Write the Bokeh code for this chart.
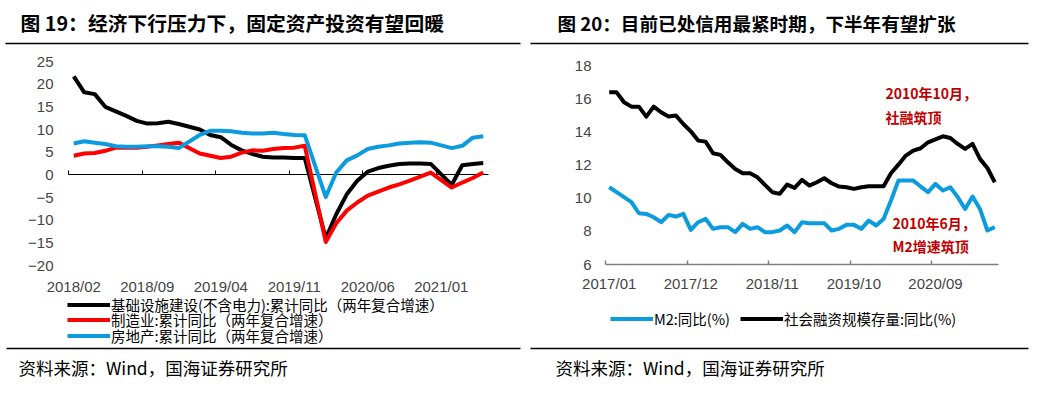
from bokeh.plotting import figure
from bokeh.models import (FixedTicker, Label, Legend, LegendItem, BoxAnnotation,
                          LinearAxis, Range1d)
from bokeh.layouts import row
from bokeh.embed import file_html
from bokeh.resources import INLINE

CJK = "Noto Sans CJK SC"
LAT = "Liberation Sans"

# ---------------- Left chart data ----------------
left_axis_months = [
    "2018/02", "2018/03", "2018/04", "2018/05", "2018/06", "2018/07", "2018/08", "2018/09",
    "2018/10", "2018/11", "2018/12", "2019/01", "2019/02", "2019/03", "2019/04", "2019/05",
    "2019/06", "2019/07", "2019/08", "2019/09", "2019/10", "2019/11", "2019/12", "2020/01",
    "2020/02", "2020/03", "2020/04", "2020/05", "2020/06", "2020/07", "2020/08", "2020/09",
    "2020/10", "2020/11", "2020/12", "2021/01", "2021/02", "2021/03", "2021/04", "2021/05",
]
left_tick_labels = ["2018/02", "2018/09", "2019/04", "2019/11", "2020/06", "2021/01"]
left_y_ticks = [-20, -15, -10, -5, 0, 5, 10, 15, 20, 25]
left_data_months = [
    "2018/02", "2018/03", "2018/04", "2018/05", "2018/06", "2018/07", "2018/08", "2018/09",
    "2018/10", "2018/11", "2018/12", "2019/02", "2019/03", "2019/04", "2019/05",
    "2019/06", "2019/07", "2019/08", "2019/09", "2019/10", "2019/11", "2019/12",
    "2020/02", "2020/03", "2020/04", "2020/05", "2020/06", "2020/07", "2020/08", "2020/09",
    "2020/10", "2020/11", "2020/12", "2021/02", "2021/03", "2021/04", "2021/05",
]
infra = [21.7, 18.2, 17.8, 15.0, 14.0, 13.0, 11.9, 11.3, 11.4, 11.7, 11.2,
         10.0, 8.8, 8.3, 6.6, 5.4, 4.6, 4.0, 3.8, 3.8, 3.7, 3.7,
         -14.0, -8.7, -4.3, -1.3, 0.7, 1.5, 2.0, 2.4, 2.5, 2.5, 2.4,
         -2.2, 2.1, 2.4, 2.6]
manuf = [4.2, 4.7, 4.8, 5.3, 6.0, 6.0, 6.0, 6.2, 6.5, 6.8, 7.1,
         4.7, 4.2, 3.7, 4.0, 4.9, 5.4, 5.3, 5.7, 5.9, 6.0, 6.4,
         -14.8, -10.7, -7.9, -6.1, -4.6, -3.7, -2.8, -2.1, -1.3, -0.4, 0.5,
         -2.8, -1.7, -0.7, 0.5]
realty = [6.9, 7.4, 7.1, 6.8, 6.3, 6.2, 6.2, 6.3, 6.3, 6.2, 5.9,
          8.8, 9.7, 9.7, 9.6, 9.3, 9.1, 9.1, 9.3, 9.0, 8.8, 8.75,
          -4.9, 0.5, 3.2, 4.3, 5.7, 6.2, 6.5, 6.9, 7.1, 7.2, 7.1,
          5.9, 6.4, 8.2, 8.5]
left_names = ["基础设施建设(不含电力):累计同比（两年复合增速）",
              "制造业:累计同比（两年复合增速）",
              "房地产:累计同比（两年复合增速）"]

# ---------------- Right chart data ----------------
right_months = [
    "2017/01", "2017/02", "2017/03", "2017/04", "2017/05", "2017/06", "2017/07", "2017/08",
    "2017/09", "2017/10", "2017/11", "2017/12", "2018/01", "2018/02", "2018/03", "2018/04",
    "2018/05", "2018/06", "2018/07", "2018/08", "2018/09", "2018/10", "2018/11", "2018/12",
    "2019/01", "2019/02", "2019/03", "2019/04", "2019/05", "2019/06", "2019/07", "2019/08",
    "2019/09", "2019/10", "2019/11", "2019/12", "2020/01", "2020/02", "2020/03", "2020/04",
    "2020/05", "2020/06", "2020/07", "2020/08", "2020/09", "2020/10", "2020/11", "2020/12",
    "2021/01", "2021/02", "2021/03", "2021/04", "2021/05",
]
right_tick_labels = ["2017/01", "2017/12", "2018/11", "2019/10", "2020/09"]
right_y_ticks = [6, 8, 10, 12, 14, 16, 18]
m2 = [10.66, 10.36, 10.06, 9.76, 9.09, 9.05, 8.85, 8.55, 8.99, 8.89, 9.05, 8.09,
      8.55, 8.75, 8.15, 8.25, 8.25, 7.95, 8.45, 8.15, 8.25, 7.95, 7.95, 8.05,
      8.35, 7.95, 8.55, 8.49, 8.49, 8.49, 8.05, 8.15, 8.39, 8.39, 8.15, 8.65,
      8.35, 8.75, 9.86, 11.06, 11.06, 11.06, 10.70, 10.36, 10.86, 10.46, 10.66, 10.06,
      9.35, 10.10, 9.35, 8.05, 8.25]
tsf = [16.38, 16.38, 15.78, 15.52, 15.52, 14.92, 15.52, 15.18, 14.92, 14.98, 14.47, 14.03,
       13.47, 13.41, 12.71, 12.61, 12.16, 11.76, 11.50, 11.50, 11.26, 10.80, 10.36, 10.26,
       10.82, 10.62, 11.10, 10.76, 10.96, 11.20, 10.90, 10.70, 10.66, 10.56, 10.66, 10.72,
       10.72, 10.72, 11.50, 12.02, 12.57, 12.87, 13.01, 13.37, 13.55, 13.73, 13.63, 13.27,
       12.97, 13.27, 12.37, 11.82, 10.96]
right_names = ["M2:同比(%)", "社会融资规模存量:同比(%)"]
notes = ["2010年10月，", "社融筑顶", "2010年6月，", "M2增速筑顶"]
titles = ["图 19：经济下行压力下，固定资产投资有望回暖",
          "图 20：目前已处信用最紧时期，下半年有望扩张"]
source = "资料来源：Wind，国海证券研究所"

BLACK = "#000000"
RED = "#FF0000"
BLUE = "#0C9BDF"
DARKRED = "#C00000"
H = 397  # page height


def make_fig(x0, w, data_x, px_x, data_y, px_y):
    """Figure whose frame is the whole canvas; ranges chosen so data_x/data_y
    map onto page pixel spans px_x / px_y."""
    (dx0, dx1), (pxa, pxb) = data_x, px_x
    (dy0, dy1), (pya, pyb) = data_y, px_y  # pya = page y of dy1 (top), pyb = of dy0
    kx = (pxb - pxa) / (dx1 - dx0)
    ky = (pyb - pya) / (dy1 - dy0)
    xr = Range1d(dx0 - (pxa - x0) / kx, dx1 + (x0 + w - pxb) / kx)
    yr = Range1d(dy0 - (H - pyb) / ky, dy1 + pya / ky)
    p = figure(width=w, height=H, output_backend="svg", toolbar_location=None,
               x_range=xr, y_range=yr, x_axis_type=None, y_axis_type=None,
               min_border=0, title=None)
    p.outline_line_color = None
    p.background_fill_color = "white"
    p.border_fill_color = "white"
    return p


def lab(x0, X, Y, text, size="14px", font=CJK, style="normal", color="black"):
    return Label(x=X - x0, y=H - Y, x_units="screen", y_units="screen", text=text,
                 text_font=font, text_font_size=size, text_font_style=style,
                 text_color=color, text_baseline="middle", text_align="left")


def rule(x0, X1, X2, Y, t=1.5):
    return BoxAnnotation(left=X1 - x0, right=X2 - x0, bottom=H - Y - t / 2, top=H - Y + t / 2,
                         left_units="screen", right_units="screen", top_units="screen",
                         bottom_units="screen", fill_color="black", fill_alpha=1.0,
                         line_color=None, level="overlay")


def one_legend(x0, renderer, name, X, Y, h=21, size="14.5px"):
    return Legend(items=[LegendItem(label=name, renderers=[renderer])],
                  location=(X - x0, H - Y - h / 2), orientation="horizontal",
                  glyph_width=43, glyph_height=h, label_height=h, label_standoff=1,
                  padding=0, margin=0, spacing=0, border_line_color=None,
                  background_fill_alpha=0, label_text_font=CJK, label_text_font_size=size,
                  label_text_color="black", label_text_line_height=1.0)


def y_axis(loc, bounds, ticks, standoff):
    return LinearAxis(fixed_location=loc, bounds=bounds, ticker=FixedTicker(ticks=ticks),
                      axis_line_color=None, major_tick_line_color=None,
                      minor_tick_line_color=None, major_tick_in=0, major_tick_out=0,
                      minor_tick_in=0, minor_tick_out=0,
                      major_label_text_font=LAT, major_label_text_font_size="15px",
                      major_label_standoff=standoff)


# ================= Left figure =================
LX0, LW = 0, 528
nl = len(left_axis_months)
pl = make_fig(LX0, LW, (-0.5, nl - 0.5), (68, 488), (-20, 25), (61, 265))

xl = [left_axis_months.index(m) for m in left_data_months]
rl = []
for ys, c in [(infra, BLACK), (manuf, RED), (realty, BLUE)]:
    rl.append(pl.line(xl, ys, line_color=c, line_width=4, line_join="round"))

pl.add_layout(y_axis(-0.5, (-20, 25), left_y_ticks, 15), "left")

l_tick_pos = [left_axis_months.index(m) for m in left_tick_labels]
zero_axis = LinearAxis(fixed_location=0, bounds=(-0.5, nl - 0.5),
                       ticker=FixedTicker(ticks=[], minor_ticks=[p - 0.5 for p in l_tick_pos]),
                       axis_line_color="black", axis_line_width=1,
                       major_tick_line_color=None, minor_tick_line_color="black",
                       minor_tick_in=4, minor_tick_out=0, major_label_text_font_size="0px")
zero_axis.level = "underlay"
pl.add_layout(zero_axis, "below")
lab_axis = LinearAxis(fixed_location=-20, bounds=(-0.5, nl - 0.5),
                      ticker=FixedTicker(ticks=l_tick_pos, minor_ticks=[]),
                      major_label_overrides={p: t for p, t in zip(l_tick_pos, left_tick_labels)},
                      axis_line_color=None, major_tick_line_color=None,
                      minor_tick_line_color=None, major_tick_in=0, major_tick_out=0,
                      major_label_text_font=LAT, major_label_text_font_size="15px",
                      major_label_standoff=12)
pl.add_layout(lab_axis, "below")

for r, nm, Y in zip(rl, left_names, [304, 319.5, 335]):
    pl.add_layout(one_legend(LX0, r, nm, 67, Y))

pl.add_layout(lab(LX0, 20, 22, titles[0], size="19.8px", style="bold"))
pl.add_layout(rule(LX0, 5, 520, 43))
pl.add_layout(rule(LX0, 6, 520, 348))
pl.add_layout(lab(LX0, 18, 367, source, size="17.5px"))

# ================= Right figure =================
RX0, RW = 528, 509
nr = len(right_months)
pr = make_fig(RX0, RW, (-0.5, nr - 0.5), (605, 998), (6, 18), (65, 264))

xr = list(range(nr))
r_m2 = pr.line(xr, m2, line_color=BLUE, line_width=4, line_join="round")
r_tsf = pr.line(xr, tsf, line_color=BLACK, line_width=4, line_join="round")

pr.add_layout(y_axis(-0.5, (6, 18), right_y_ticks, 14), "left")
r_tick_pos = [right_months.index(m) for m in right_tick_labels]
rx = LinearAxis(fixed_location=6, bounds=(-0.5, nr - 0.5),
                ticker=FixedTicker(ticks=r_tick_pos, minor_ticks=[p - 0.5 for p in r_tick_pos]),
                major_label_overrides={p: t for p, t in zip(r_tick_pos, right_tick_labels)},
                axis_line_color="#7F7F7F", axis_line_width=1.5,
                major_tick_line_color=None, major_tick_in=0, major_tick_out=0,
                minor_tick_line_color="#7F7F7F", minor_tick_in=4, minor_tick_out=0,
                minor_tick_line_width=1.5,
                major_label_text_font=LAT, major_label_text_font_size="15px",
                major_label_standoff=10)
pr.add_layout(rx, "below")

pr.add_layout(one_legend(RX0, r_m2, right_names[0], 610, 318))
pr.add_layout(one_legend(RX0, r_tsf, right_names[1], 740, 318))

for (X, Y), t in zip([(885, 92), (885, 116), (892, 222), (892, 245)], notes):
    pr.add_layout(lab(RX0, X, Y, t, size="14px", style="bold", color=DARKRED))

pr.add_layout(lab(RX0, 557, 22, titles[1], size="18.6px", style="bold"))
pr.add_layout(rule(RX0, 530, 1028, 43))
pr.add_layout(rule(RX0, 530, 1028, 348))
pr.add_layout(lab(RX0, 555, 367, source, size="17.5px"))

layout = row(pl, pr, spacing=0)
open("out.html", "w").write(file_html(layout, INLINE))
